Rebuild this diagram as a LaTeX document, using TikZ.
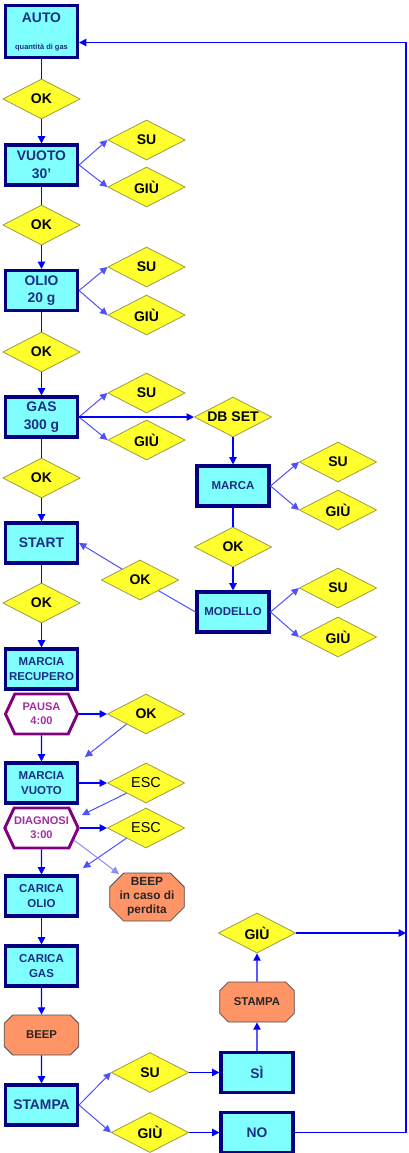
\documentclass[tikz,border=0pt]{standalone}
\usepackage{fontspec}
\setmainfont{Liberation Sans}
\usetikzlibrary{shapes.geometric,shapes.misc,shapes.symbols,arrows.meta,calc}
\definecolor{boxfill}{HTML}{80FFFF}
\definecolor{boxline}{HTML}{000080}
\definecolor{boxtext}{HTML}{1A2F85}
\definecolor{dfill}{HTML}{FFFF2E}
\definecolor{dline}{HTML}{9C9C40}
\definecolor{ofill}{HTML}{FF9466}
\definecolor{oline}{HTML}{505050}
\definecolor{hline}{HTML}{800080}
\definecolor{htext}{HTML}{A0309F}
\definecolor{conn}{HTML}{0000FF}
\definecolor{conn2}{HTML}{5050FF}
\definecolor{conn3}{HTML}{8C8CFF}
\tikzset{
 fbox/.style={draw=boxline, line width=2.3pt, fill=boxfill, minimum width=54pt, minimum height=30pt, inner sep=0pt, align=center, text=boxtext, font=\bfseries\fontsize{10.4}{13.3}\selectfont},
 sbox/.style={fbox, font=\bfseries\fontsize{8.6}{11.25}\selectfont},
 dia/.style={diamond, draw=dline, line width=0.6pt, fill=dfill, minimum width=58pt, minimum height=30pt, inner sep=0pt, aspect=2, font=\bfseries\fontsize{10.5}{12}\selectfont},
 escdia/.style={dia, font=\fontsize{10.8}{12}\selectfont},
 oct/.style={chamfered rectangle, chamfered rectangle xsep=7pt, draw=oline, line width=0.6pt, fill=ofill, minimum width=56pt, minimum height=30pt, inner sep=0pt, align=center, text=black!85, font=\bfseries\fontsize{8.5}{10.5}\selectfont},
 hexa/.style={signal, signal to=east and west, signal pointer angle=130, draw=hline, line width=2.2pt, fill=white, minimum width=54pt, minimum height=30pt, inner sep=0pt, align=center, text=htext, font=\bfseries\fontsize{8.3}{10.5}\selectfont},
 arr/.style={draw=conn, line width=1pt, -{Triangle[length=5.5pt,width=5.5pt]}},
 ln/.style={draw=conn, line width=1pt},
 barr/.style={draw=conn2, line width=0.75pt, -{Triangle[length=5.5pt,width=5.5pt]}},
 bln/.style={draw=conn2, line width=0.75pt},
 larr/.style={draw=conn3, line width=0.75pt, -{Triangle[length=5.5pt,width=5.5pt]}},
}
\begin{document}
\begin{tikzpicture}[x=0.75pt,y=-0.75pt]
\useasboundingbox[fill=white] (0,0) rectangle (408,1153);
% left column
\node[fbox, minimum height=39pt, text depth=0pt] (auto) at (41.5,31.5) {\raisebox{-1.5pt}{AUTO}\\[8.5pt]{\fontsize{5.6}{6}\selectfont quantità di gas}};
\node[dia] (ok1) at (41.5,99) {OK};
\node[fbox] (vuoto) at (41.5,165) {VUOTO\\30'};
\node[dia] (su1) at (146.5,140) {SU};
\node[dia] (giu1) at (146.5,187) {GIÙ};
\node[dia] (ok2) at (41.5,225) {OK};
\node[fbox] (olio) at (41.5,290.5) {OLIO\\20 g};
\node[dia] (su2) at (146.5,267) {SU};
\node[dia] (giu2) at (146.5,315) {GIÙ};
\node[dia] (ok3) at (41.5,352) {OK};
\node[fbox] (gas) at (41.5,417) {GAS\\300 g};
\node[dia] (su3) at (146.5,393) {SU};
\node[dia] (giu3) at (146.5,440) {GIÙ};
\node[dia] (dbset) at (233,417) {DB SET};
\node[sbox] (marca) at (233,486) {MARCA};
\node[dia] (su4) at (338,462) {SU};
\node[dia] (giu4) at (338,510) {GIÙ};
\node[dia] (ok6) at (233,547) {OK};
\node[sbox] (modello) at (233,612) {MODELLO};
\node[dia] (su5) at (338,588) {SU};
\node[dia] (giu5) at (338,637) {GIÙ};
\node[dia] (ok4) at (41.5,478) {OK};
\node[fbox] (start) at (41.5,543) {START};
\node[dia] (okm) at (140,580) {OK};
\node[dia] (ok5) at (41.5,603) {OK};
\node[sbox] (recupero) at (41.5,669) {MARCIA\\RECUPERO};
\node[hexa] (pausa) at (41.5,714) {PAUSA\\4:00};
\node[dia] (ok7) at (146,714) {OK};
\node[sbox] (mvuoto) at (41.5,783) {MARCIA\\VUOTO};
\node[escdia] (esc1) at (146,783) {ESC};
\node[hexa] (diagnosi) at (41.5,828) {DIAGNOSI\\3:00};
\node[escdia] (esc2) at (146,828) {ESC};
\node[oct, font=\bfseries\fontsize{8.9}{10.5}\selectfont] (beep1) at (147,897) {BEEP\\in caso di\\perdita};
\node[sbox] (olio2) at (41.5,896) {CARICA\\OLIO};
\node[sbox] (gas2) at (41.5,966) {CARICA\\GAS};
\node[oct] (beep2) at (41.5,1035) {BEEP};
\node[fbox] (stampa) at (41.5,1105) {STAMPA};
\node[dia] (su6) at (150,1072.5) {SU};
\node[dia] (giu6) at (150,1132.5) {GIÙ};
\node[fbox] (si) at (257,1072.5) {SÌ};
\node[fbox] (no) at (257,1132.5) {NO};
\node[oct] (stampa2) at (257,1002) {STAMPA};
\node[dia] (giu7) at (257,933) {GIÙ};
% free ends
\coordinate (t1) at (85,757);
\coordinate (t2) at (82,815);
\coordinate (t3) at (83,868);
\coordinate (t4) at (119,874);
\coordinate (r1) at (406,933);
\coordinate (r2) at (406,1132.5);
\coordinate (r3) at (406,42.5);
\coordinate (autoin) at (79,42.5);
% main connectors
\draw[ln] (auto) -- (ok1);
\draw[arr] (ok1) -- (vuoto);
\draw[ln] (vuoto) -- (ok2);
\draw[arr] (ok2) -- (olio);
\draw[ln] (olio) -- (ok3);
\draw[arr] (ok3) -- (gas);
\draw[ln] (gas) -- (ok4);
\draw[arr] (ok4) -- (start);
\draw[ln] (start) -- (ok5);
\draw[arr] (ok5) -- (recupero);
\draw[arr] (pausa) -- (mvuoto);
\draw[arr] (diagnosi) -- (olio2);
\draw[arr] (olio2) -- (gas2);
\draw[arr] (gas2) -- (beep2);
\draw[arr] (beep2) -- (stampa);
\foreach \b/\s/\g in {vuoto/su1/giu1, olio/su2/giu2, gas/su3/giu3, marca/su4/giu4, modello/su5/giu5, stampa/su6/giu6}{
  \draw[barr] (\b.east) -- (\s.west);
  \draw[barr] (\b.east) -- (\g.west);
}
\draw[arr] (gas.east) -- (dbset.west);
\draw[arr] (dbset) -- (marca);
\draw[ln] (marca) -- (ok6);
\draw[arr] (ok6) -- (modello);
\draw[bln] (modello.west) -- (okm);
\draw[barr] (okm) -- (start.east);
\draw[arr] (pausa.east) -- (ok7.west);
\draw[barr] (ok7.south west) -- (t1);
\draw[arr] (mvuoto.east) -- (esc1.west);
\draw[barr] (esc1.south west) -- (t2);
\draw[arr] (diagnosi.east) -- (esc2.west);
\draw[barr] (esc2.south west) -- (t3);
\draw[larr] ($(diagnosi.east)+(-6,12)$) -- (t4);
\draw[arr] (su6) -- (si);
\draw[arr] (giu6) -- (no);
\draw[arr] (si) -- (stampa2);
\draw[arr] (stampa2) -- (giu7);
\draw[arr] (giu7) -- (r1);
\draw[arr] (no) -- (r2) -- (r3) -- (autoin);
\end{tikzpicture}
\end{document}
